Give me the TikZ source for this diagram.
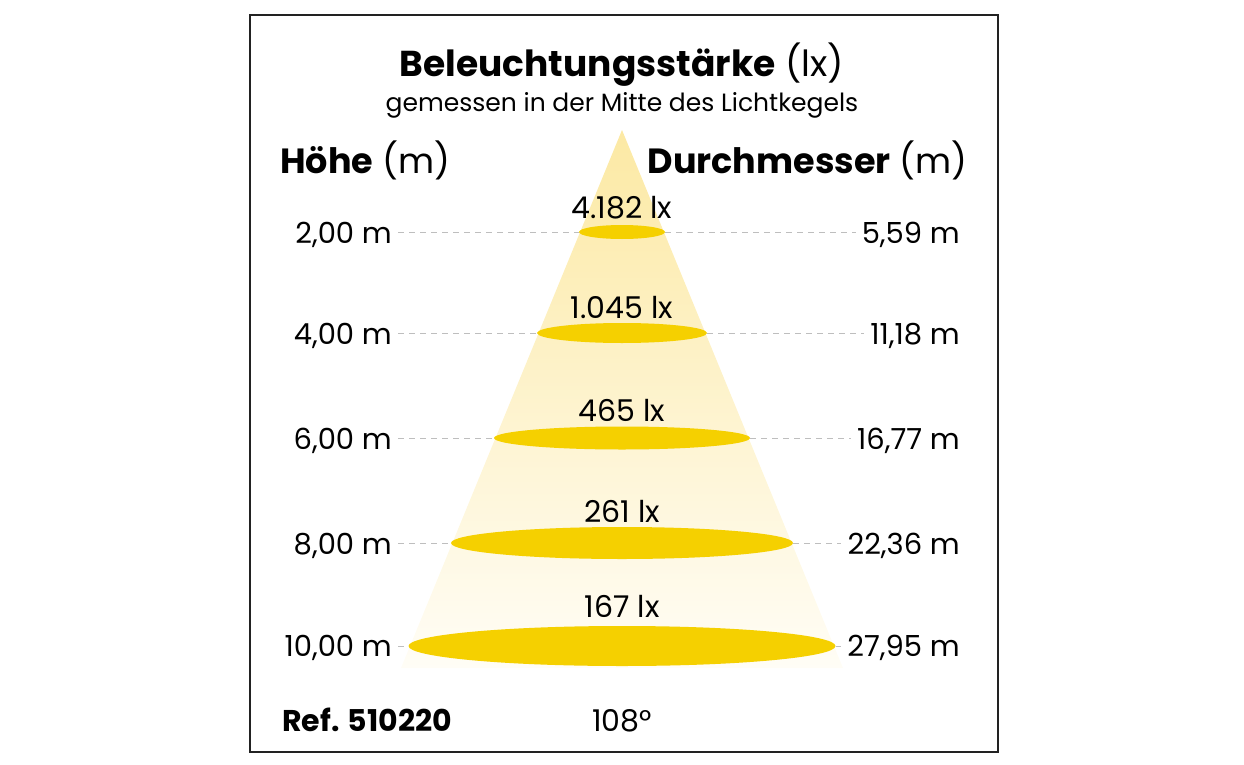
\documentclass[tikz,border=0pt]{standalone}
\usepackage{fontspec}
\setmainfont{Poppins}
\usetikzlibrary{shapes.geometric}

\definecolor{spotgold}{HTML}{F5D000}
\definecolor{conetop}{HTML}{FCE9A4}
\definecolor{conemid}{HTML}{FEF4D2}
\definecolor{conebot}{HTML}{FFFDF6}
\definecolor{dashgray}{HTML}{BEBEBE}
\definecolor{framegray}{HTML}{222222}

\begin{document}
\begin{tikzpicture}[
	x=1pt, y=-1pt,
	title/.style={
		inner sep=0pt, anchor=base,
		font=\fontsize{36}{40}\selectfont
	},
	subtitle/.style={
		inner sep=0pt, anchor=base,
		font=\fontsize{25}{30}\selectfont
	},
	head/.style={
		inner sep=0pt,
		font=\fontsize{35}{40}\selectfont
	},
	hlabel/.style={
		inner sep=0pt, anchor=base east,
		font=\fontsize{29}{34}\selectfont
	},
	dlabel/.style={
		inner sep=0pt, anchor=base east,
		font=\fontsize{29}{34}\selectfont
	},
	luxlabel/.style={
		inner sep=0pt, anchor=base,
		font=\fontsize{30}{34}\selectfont
	},
	spot/.style={
		ellipse, fill=spotgold, inner sep=0pt
	},
	dashline/.style={dashgray, dashed, dash pattern=on 6pt off 5pt, line width=0.9pt},
	]
	\useasboundingbox (0,0) rectangle (1244,765);
	\def\cx{622}

	% light cone
	\shade[top color=conetop, middle color=conemid, bottom color=conebot]
		(\cx,130) -- (843,668) -- (401,668) -- cycle;

	\node[title] (ttl) at (\cx,77) {\textbf{Beleuchtungsstärke} (lx)};
	\node[subtitle] (sub) at (\cx,112) {gemessen in der Mitte des Lichtkegels};
	\node[head, anchor=base west] (hoehe) at (280,173) {\textbf{Höhe} (m)};
	\node[head, anchor=base east] (durch) at (968,173) {\textbf{Durchmesser} (m)};

	% rows: height, spot, diameter
	\node[hlabel] (h1) at (392,243) {2,00 m};
	\node[hlabel] (h2) at (392,344) {4,00 m};
	\node[hlabel] (h3) at (392,449) {6,00 m};
	\node[hlabel] (h4) at (392,554) {8,00 m};
	\node[hlabel] (h5) at (392,656) {10,00 m};

	\node[dlabel] (d1) at (960,243) {5,59 m};
	\node[dlabel] (d2) at (960,344) {11,18 m};
	\node[dlabel] (d3) at (960,449) {16,77 m};
	\node[dlabel] (d4) at (960,554) {22,36 m};
	\node[dlabel] (d5) at (960,656) {27,95 m};

	\node[spot, minimum width=86pt,  minimum height=14pt] (e1) at (\cx,232) {};
	\node[spot, minimum width=170pt, minimum height=20pt] (e2) at (\cx,333) {};
	\node[spot, minimum width=256pt, minimum height=23pt] (e3) at (\cx,438) {};
	\node[spot, minimum width=342pt, minimum height=32pt] (e4) at (\cx,543) {};
	\node[spot, minimum width=427pt, minimum height=40pt] (e5) at (\cx,646) {};

	\foreach \i in {1,...,5}{
		\draw[dashline] ([xshift=6pt]h\i.east |- e\i) -- (e\i.west);
		\draw[dashline] (e\i.east) -- ([xshift=-6pt]d\i.west |- e\i);
	}

	\node[luxlabel] (l1) at (\cx,218) {4.182 lx};
	\node[luxlabel] (l2) at (\cx,318) {1.045 lx};
	\node[luxlabel] (l3) at (\cx,421) {465 lx};
	\node[luxlabel] (l4) at (\cx,522) {261 lx};
	\node[luxlabel] (l5) at (\cx,617) {167 lx};

	\node[luxlabel, anchor=base west] (ref) at (282,731) {\textbf{Ref. 510220}};
	\node[luxlabel] (angle) at (\cx,731) {108°};

	\draw[framegray, line width=2pt] (250,15) rectangle (998,752);
\end{tikzpicture}
\end{document}
